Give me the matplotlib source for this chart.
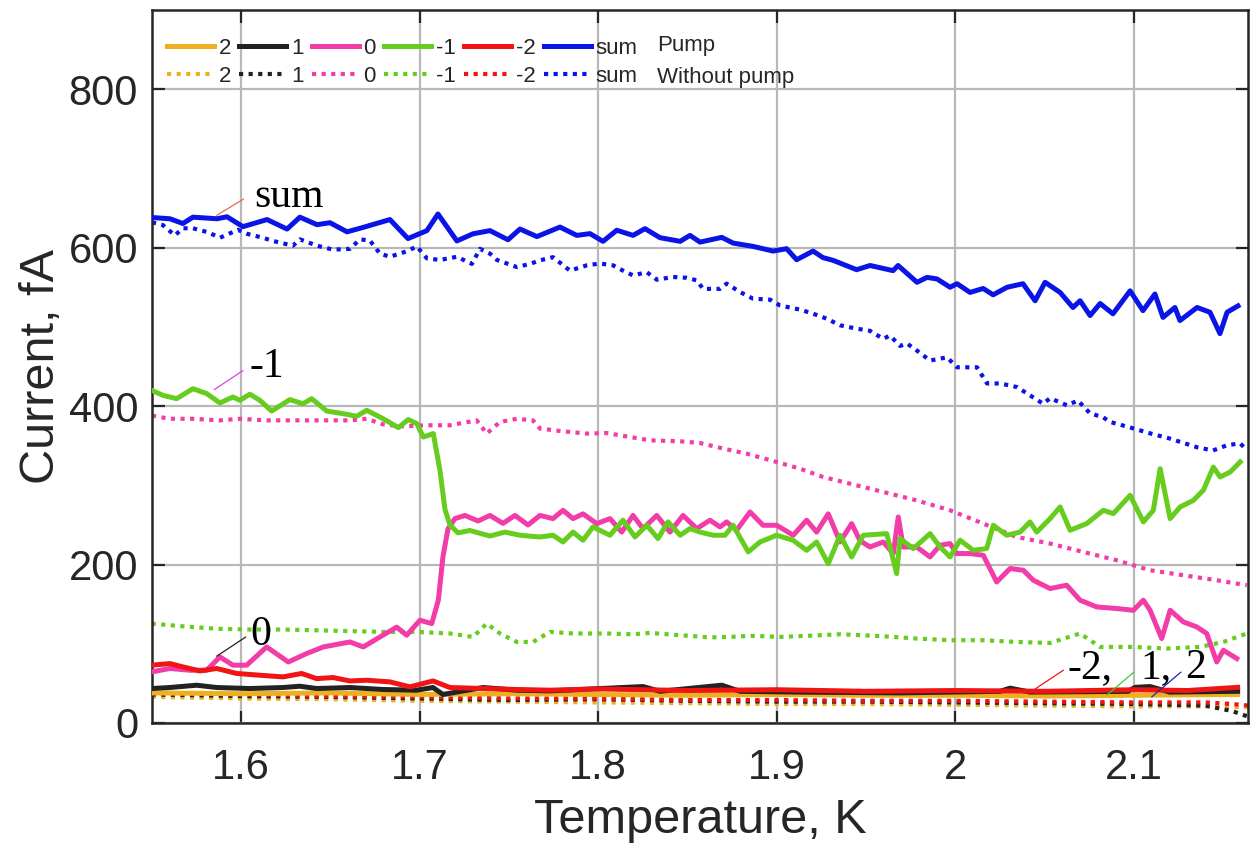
import matplotlib
matplotlib.use("Agg")
import matplotlib.pyplot as plt
from matplotlib.lines import Line2D

# ---------------- data ----------------
# Pump, sum (blue solid)
t_sum_p = [1.5507, 1.5602, 1.5675, 1.5731, 1.5866, 1.5922, 1.6011, 1.6146, 1.6258, 1.6330,
           1.6426, 1.6498, 1.6594, 1.6683, 1.6834, 1.6935, 1.7041, 1.7103, 1.7209, 1.7299,
           1.7394, 1.7495, 1.7562, 1.7657, 1.7786, 1.7880, 1.7954, 1.8027, 1.8104, 1.8195,
           1.8262, 1.8346, 1.8459, 1.8514, 1.8570, 1.8692, 1.8755, 1.8867, 1.8979, 1.9055,
           1.9111, 1.9203, 1.9259, 1.9315, 1.9447, 1.9522, 1.9651, 1.9679, 1.9785, 1.9841,
           1.9897, 1.9970, 2.0009, 2.0082, 2.0155, 2.0211, 2.0289, 2.0378, 2.0446, 2.0502,
           2.0586, 2.0658, 2.0698, 2.0754, 2.0810, 2.0882, 2.0978, 2.1050, 2.1117, 2.1162,
           2.1229, 2.1257, 2.1353, 2.1425, 2.1481, 2.1521, 2.1582]
i_sum_p = [638, 636.5, 630.5, 638.5, 636.5, 639, 626.5, 635.5, 623.5, 638.5,
           629, 631.5, 620, 625.5, 635.5, 611.5, 621.5, 642.5, 608.5, 617.5,
           621.5, 610, 623.5, 614, 626, 615.5, 617.7, 608, 622, 615.5,
           624, 612.6, 608, 615.5, 607, 613, 605.8, 601.6, 595.7, 598.7,
           584.8, 595.7, 587.4, 584, 572.2, 577.5, 571, 577.5, 556.3, 562.5,
           560.5, 550, 554.5, 543.5, 548.5, 540.5, 550, 554.5, 533, 556.3,
           543.5, 524.5, 533, 514.3, 529.5, 516.5, 545.5, 520.5, 541.5, 512,
           524.5, 508, 524.5, 518.5, 491.5, 518.5, 526.5]

# Without pump, sum (blue dotted)
t_sum_n = [1.5502, 1.5563, 1.5630, 1.5675, 1.5731, 1.5815, 1.5882, 1.5983, 1.6034, 1.6123,
           1.6179, 1.6291, 1.6330, 1.6426, 1.6515, 1.6610, 1.6666, 1.6722, 1.6778, 1.6834,
           1.6929, 1.6985, 1.7041, 1.7114, 1.7209, 1.7293, 1.7338, 1.7394, 1.7433, 1.7545,
           1.7618, 1.7674, 1.7747, 1.7842, 1.7936, 1.8010, 1.8083, 1.8139, 1.8195, 1.8272,
           1.8328, 1.8419, 1.8496, 1.8552, 1.8587, 1.8682, 1.8719, 1.8794, 1.8867, 1.8962,
           1.9018, 1.9130, 1.9203, 1.9279, 1.9354, 1.9447, 1.9522, 1.9595, 1.9634, 1.9690,
           1.9729, 1.9785, 1.9858, 1.9953, 2.0009, 2.0121, 2.0177, 2.0250, 2.0345, 2.0418,
           2.0491, 2.0530, 2.0625, 2.0686, 2.0754, 2.0826, 2.0866, 2.0994, 2.1090, 2.1201,
           2.1353, 2.1442, 2.1521, 2.1594, 2.1633]
i_sum_n = [632, 628.5, 615.5, 624.5, 624.5, 619.5, 612.5, 622.5, 617.5, 612.5,
           608.5, 602.5, 610.5, 602.5, 597.5, 598.5, 610.5, 609, 592.5, 588.5,
           595.5, 601.5, 586.5, 584.5, 588.5, 579.5, 598.5, 592.5, 584.5, 575.5,
           579.5, 584, 588, 571, 577.7, 580, 577.7, 571, 565, 569,
           559.6, 563, 562, 558.7, 548, 548, 554.6, 544, 535.6, 534.4,
           527, 521.8, 516.7, 510.4, 502, 497.8, 495, 485, 489, 476,
           479, 470, 457.5, 461.6, 449, 449, 428.6, 428.6, 424, 413.5,
           403, 410, 401, 407, 390.8, 386, 380, 372, 365.6, 359,
           348, 344, 350.6, 353, 344]

# Pump, -1 (green solid)
t_m1_p = [1.5500, 1.5563, 1.5640, 1.5731, 1.5808, 1.5882, 1.5955, 1.5994, 1.6050, 1.6106,
          1.6172, 1.6274, 1.6347, 1.6396, 1.6480, 1.6571, 1.6648, 1.6704, 1.6795, 1.6881,
          1.6937, 1.6984, 1.7021, 1.7077, 1.7114, 1.7142, 1.7170, 1.7215, 1.7282, 1.7394,
          1.7478, 1.7562, 1.7674, 1.7747, 1.7803, 1.7859, 1.7915, 1.7971, 1.8066, 1.8139,
          1.8206, 1.8272, 1.8335, 1.8391, 1.8459, 1.8514, 1.8570, 1.8643, 1.8710, 1.8755,
          1.8840, 1.8906, 1.8999, 1.9091, 1.9167, 1.9223, 1.9288, 1.9354, 1.9419, 1.9484,
          1.9615, 1.9671, 1.9690, 1.9764, 1.9858, 1.9914, 1.9970, 2.0026, 2.0100, 2.0175,
          2.0212, 2.0287, 2.0362, 2.0418, 2.0455, 2.0530, 2.0586, 2.0642, 2.0735, 2.0828,
          2.0884, 2.0978, 2.1052, 2.1108, 2.1146, 2.1202, 2.1258, 2.1332, 2.1388, 2.1444,
          2.1482, 2.1538, 2.1594]
i_m1_p = [420, 413.6, 409.4, 422, 415.8, 404, 411.5, 407.3, 415, 407.3,
          393.8, 408.2, 403, 409.4, 393.8, 390.5, 387.2, 394.7, 384.2, 372.9,
          383, 378, 361, 365.3, 319, 270, 250, 240, 243, 236,
          241, 237, 234.8, 237, 228.5, 241, 230.7, 247.5, 237, 256,
          234.8, 249.6, 232.8, 253.8, 237, 245.4, 241, 237, 237, 249.6,
          216, 228.5, 237, 230.7, 218, 228.5, 201, 237, 209.6, 237,
          239, 188.6, 232.8, 220.2, 239, 222.2, 209.6, 230.7, 218, 220.2,
          249.6, 237, 241, 253.8, 241, 258, 272.7, 243.3, 251.7, 268.5,
          264.3, 287.4, 253.8, 268.5, 321, 258, 272.7, 281, 293.8, 323,
          310.5, 316.8, 329.5]

# Without pump, -1 (green dotted)
t_m1_n = [1.5500, 1.5675, 1.5864, 1.6050, 1.6235, 1.6424, 1.6610, 1.6795, 1.6984, 1.7170,
          1.7299, 1.7376, 1.7450, 1.7544, 1.7635, 1.7730, 1.7859, 1.8048, 1.8195, 1.8290,
          1.8459, 1.8626, 1.8738, 1.8867, 1.9018, 1.9167, 1.9354, 1.9596, 1.9783, 1.9970,
          2.0156, 2.0343, 2.0530, 2.0698, 2.0810, 2.0996, 2.1183, 2.1369, 2.1500, 2.1631]
i_m1_n = [125.5, 122, 119, 118, 118, 117, 116, 115, 115, 113,
          108.6, 125.5, 113, 102.3, 102.3, 115, 113, 113, 112, 113.7,
          110.8, 108, 108.7, 110, 108.7, 110, 112, 109.5, 106.6, 104.5,
          104.5, 102.3, 101, 113, 96, 96, 94, 96, 102.3, 113]

# Pump, 0 (pink solid)
t_0_p = [1.5500, 1.5602, 1.5714, 1.5808, 1.5882, 1.5955, 1.6032, 1.6144, 1.6265, 1.6368,
         1.6461, 1.6610, 1.6685, 1.6778, 1.6872, 1.6928, 1.7002, 1.7068, 1.7105, 1.7131,
         1.7159, 1.7198, 1.7254, 1.7327, 1.7394, 1.7467, 1.7534, 1.7607, 1.7674, 1.7747,
         1.7803, 1.7859, 1.7915, 1.7992, 1.8066, 1.8132, 1.8195, 1.8251, 1.8328, 1.8402,
         1.8475, 1.8552, 1.8626, 1.8682, 1.8719, 1.8775, 1.8850, 1.8923, 1.8999, 1.9092,
         1.9167, 1.9223, 1.9288, 1.9354, 1.9419, 1.9466, 1.9522, 1.9596, 1.9652, 1.9680,
         1.9708, 1.9783, 1.9858, 1.9914, 1.9970, 2.0007, 2.0082, 2.0156, 2.0231, 2.0306,
         2.0380, 2.0436, 2.0530, 2.0623, 2.0698, 2.0791, 2.0903, 2.0996, 2.1052, 2.1090,
         2.1155, 2.1202, 2.1276, 2.1351, 2.1407, 2.1463, 2.1500, 2.1575]
i_0_p = [64.5, 68.8, 66.6, 66.6, 83.4, 73, 73, 96, 77, 87.7,
         96, 102.3, 96, 108.6, 121, 110.8, 129.7, 125.5, 155, 210,
         245, 258, 262, 255, 262, 252, 262, 250, 262, 258,
         268.5, 258, 264, 251.7, 258, 241, 262, 245.4, 262, 241,
         262, 245.4, 256, 247.5, 253.8, 243.3, 266.4, 249.6, 249.6, 237,
         256, 241, 264, 228.5, 251.7, 230, 222.2, 228.5, 213.9, 260,
         222.2, 222.2, 209.6, 224.4, 226.5, 213.9, 213.9, 211.7, 178, 195,
         192.8, 180.2, 169.7, 173.9, 155, 146.5, 144.5, 142.3, 155, 142.3,
         106.6, 142.3, 127.6, 121.3, 113, 77, 91.8, 81.4]

# Without pump, 0 (pink dotted)
t_0_n = [1.5502, 1.5602, 1.5731, 1.5882, 1.5994, 1.6144, 1.6330, 1.6459, 1.6610, 1.6704,
         1.6795, 1.6907, 1.7040, 1.7170, 1.7320, 1.7376, 1.7450, 1.7544, 1.7635, 1.7674,
         1.7786, 1.7936, 1.8048, 1.8178, 1.8290, 1.8459, 1.8570, 1.8700, 1.8831, 1.8980,
         1.9130, 1.9260, 1.9447, 1.9596, 1.9783, 1.9970, 2.0156, 2.0343, 2.0530, 2.0716,
         2.0903, 2.1090, 2.1276, 2.1463, 2.1631]
i_0_n = [388, 384, 384, 382, 384, 382, 382, 382, 382, 384,
         377, 374.5, 375.8, 375.8, 382, 365.3, 380, 384, 382, 371.6,
         368.6, 365.3, 366, 361, 356.8, 355.6, 353.4, 346.4, 340, 330.7,
         321, 310.5, 300, 291.6, 281, 268.5, 251.7, 234.8, 226.5, 215.9,
         205.4, 192.8, 186.5, 180.2, 173.9]

# Pump, -2 (red solid)
t_m2_p = [1.5500, 1.5602, 1.5675, 1.5770, 1.5864, 1.5976, 1.6106, 1.6235, 1.6340, 1.6424,
          1.6515, 1.6610, 1.6704, 1.6834, 1.6946, 1.7075, 1.7170, 1.7355, 1.7544, 1.7730,
          1.8000, 1.8500, 1.9000, 1.9500, 2.0000, 2.0500, 2.1000, 2.1300, 2.1580]
i_m2_p = [73, 75, 70.8, 65.7, 68.8, 62.5, 60.3, 58.2, 62.5, 56,
          57.4, 53.1, 54, 51.9, 45.6, 53.1, 44.8, 43.5, 42.3, 41.4,
          43, 41, 42, 40, 41, 40, 42, 41, 45]

# Pump, 1 (black solid)
t_1_p = [1.5500, 1.5602, 1.5752, 1.5864, 1.6050, 1.6235, 1.6330, 1.6424, 1.6610, 1.6795,
         1.6984, 1.7075, 1.7131, 1.7355, 1.7544, 1.7730, 1.8251, 1.8346, 1.8692, 1.8794,
         1.9130, 1.9690, 2.0250, 2.0306, 2.0418, 2.0967, 2.1006, 2.1090, 2.1200, 2.1580]
i_1_p = [43.5, 44.8, 47.7, 44.8, 43.5, 44.8, 46.4, 43.5, 44.8, 42.3,
         41.4, 44.8, 36, 44.8, 41.4, 40.5, 46, 40, 47.7, 40,
         39, 38, 40, 44, 39, 40, 45, 46, 39, 40]

# Pump, 2 (orange solid)
t_2_p = [1.55, 1.60, 1.65, 1.70, 1.75, 1.80, 1.85, 1.90, 1.95, 2.00, 2.05, 2.10, 2.158]
i_2_p = [38, 37, 38, 36, 37, 36, 35, 36, 35, 35, 34, 35, 36]

# Without pump, -2 / 1 / 2 (dotted)
t_low_n = [1.55, 1.60, 1.65, 1.70, 1.75, 1.80, 1.85, 1.90, 1.95, 2.00, 2.05, 2.10, 2.14, 2.155, 2.164]
i_m2_n = [38, 36, 34, 33, 31, 31, 29, 29, 28, 28, 27, 26, 26, 24, 22]
i_1_n = [36, 34, 33, 31, 29, 30, 28, 27, 27, 26, 25, 24, 22, 15, 8]
i_2_n = [33, 31, 30, 28, 27, 26, 25, 24, 24, 23, 22, 21, 21, 20, 20]

labels = ['2', '1', '0', '-1', '-2', 'sum']
colors = ['#EDB120', '#222222', '#F23CA8', '#66CC1E', '#F01414', '#0A14E6']

x_ticks = [1.6, 1.7, 1.8, 1.9, 2.0, 2.1]
x_ticklabels = ['1.6', '1.7', '1.8', '1.9', '2', '2.1']
y_ticks = [0, 200, 400, 600, 800]

# ---------------- plot ----------------
plt.rcParams['font.family'] = ['Liberation Sans', 'DejaVu Sans']
fig = plt.figure(figsize=(12.52, 8.58), dpi=100)
ax = fig.add_axes([152 / 1252, 1 - 723 / 858, 1096 / 1252, 713 / 858])

pump_data = [(t_2_p, i_2_p), (t_1_p, i_1_p), (t_0_p, i_0_p),
             (t_m1_p, i_m1_p), (t_m2_p, i_m2_p), (t_sum_p, i_sum_p)]
nopump_data = [(t_low_n, i_2_n), (t_low_n, i_1_n), (t_0_n, i_0_n),
               (t_m1_n, i_m1_n), (t_low_n, i_m2_n), (t_sum_n, i_sum_n)]

dot_style = (0, (1.0, 1.3))
lw_solid = 3.6
lw_dot = 3.0

handles = []
for k in range(6):
    tn, yn = nopump_data[k]
    ax.plot(tn, yn, color=colors[k], lw=lw_dot, linestyle=dot_style,
            dash_capstyle='butt', zorder=2)
for k in range(6):
    tp, yp = pump_data[k]
    ax.plot(tp, yp, color=colors[k], lw=lw_solid, solid_joinstyle='round', zorder=3)

for k in range(6):
    hp = Line2D([], [], color=colors[k], lw=lw_solid)
    hn = Line2D([], [], color=colors[k], lw=lw_dot, linestyle=dot_style, dash_capstyle='butt')
    handles += [hp, hn]
leg_labels = []
for k in range(6):
    leg_labels += [labels[k], labels[k]]

leg = ax.legend(handles, leg_labels, ncol=6, loc='upper left',
                bbox_to_anchor=(15 / 1096, 1 - 27.5 / 713), frameon=False,
                fontsize=16, handlelength=2.1, handletextpad=0.22,
                columnspacing=0.38, labelspacing=0.32, borderpad=0, borderaxespad=0)
for t in leg.get_texts():
    t.set_color('#262626')

ax.text((657 - 152) / 1096, 1 - (46 - 10) / 713, 'Pump', transform=ax.transAxes,
        fontsize=16, va='center', ha='left', color='#262626')
ax.text((657 - 152) / 1096, 1 - (77 - 10) / 713, 'Without pump', transform=ax.transAxes,
        fontsize=16, va='center', ha='left', color='#262626')

# annotations
serif = ['Liberation Serif', 'DejaVu Serif']
ann = dict(fontsize=30, family=serif, ha='left', va='baseline', color='black')
ax.annotate('sum', xy=(1.5864, 640.8), xytext=(1.6073, 650.8), textcoords='data',
            arrowprops=dict(arrowstyle='-', color='#E0704A', lw=0.9,
                            shrinkA=0, shrinkB=0, relpos=(-0.15, 0.45)), **ann)
ax.annotate('-1', xy=(1.5850, 420.8), xytext=(1.6050, 436.7), textcoords='data',
            arrowprops=dict(arrowstyle='-', color='#E040E0', lw=0.9,
                            shrinkA=0, shrinkB=0, relpos=(-0.2, 0.4)), **ann)
ax.annotate('0', xy=(1.5864, 84.3), xytext=(1.6050, 98.0), textcoords='data',
            arrowprops=dict(arrowstyle='-', color='#222222', lw=0.9,
                            shrinkA=0, shrinkB=0, relpos=(-0.2, 0.45)), **ann)
ax.annotate('-2,', xy=(2.0436, 41.4), xytext=(2.0625, 56.2), textcoords='data',
            arrowprops=dict(arrowstyle='-', color='#F01414', lw=0.9,
                            shrinkA=0, shrinkB=0, relpos=(-0.08, 0.45)), **ann)
ax.annotate('1,', xy=(2.0847, 35.1), xytext=(2.1034, 56.2), textcoords='data',
            arrowprops=dict(arrowstyle='-', color='#30D030', lw=0.9,
                            shrinkA=0, shrinkB=0, relpos=(-0.2, 0.4)), **ann)
ax.annotate('2', xy=(2.1099, 32.9), xytext=(2.1286, 56.2), textcoords='data',
            arrowprops=dict(arrowstyle='-', color='#2020C0', lw=0.9,
                            shrinkA=0, shrinkB=0, relpos=(-0.2, 0.4)), **ann)

ax.set_xlim(1.5502, 2.1638)
ax.set_ylim(0, 900)
ax.set_xticks(x_ticks)
ax.set_xticklabels(x_ticklabels)
ax.set_yticks(y_ticks)
ax.grid(True, color='#b8b8b8', lw=1.6)
ax.set_axisbelow(True)
ax.tick_params(axis='both', direction='in', length=9, width=1.6, colors='#262626',
               labelsize=30, top=True, right=True)
ax.tick_params(axis='x', pad=18)
ax.tick_params(axis='y', pad=10)
for s in ax.spines.values():
    s.set_linewidth(1.8)
    s.set_color('#262626')

ax.set_xlabel('Temperature, K', fontsize=35, color='#262626', labelpad=7)
ax.set_ylabel('Current, fA', fontsize=35, color='#262626', labelpad=3)

fig.savefig('out.png', dpi=100)
